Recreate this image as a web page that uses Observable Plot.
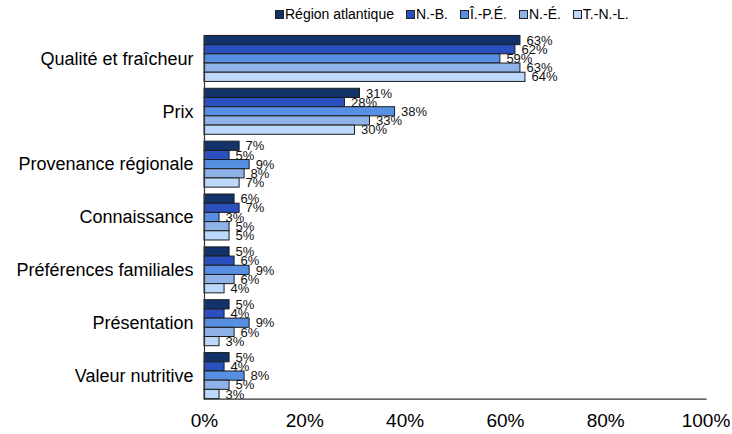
<!DOCTYPE html>
<html>
<head>
<meta charset="utf-8">
<script src="https://cdn.jsdelivr.net/npm/d3@7"></script>
<script src="https://cdn.jsdelivr.net/npm/@observablehq/plot@0.6"></script>
<style>
  body { margin: 0; background: #fff; font-family: "Liberation Sans", Arial, sans-serif; }
  #legend { height: 28px; display: flex; align-items: center; padding-left: 275px; font-size: 14px; color: #000; }
  #legend .item { display: flex; align-items: center; margin-right: 12px; }
  #legend .sw { width: 9px; height: 9px; border: 1px solid #222; margin-right: 1px; box-sizing: border-box; }
  #chart svg { overflow: visible; display: block; }
</style>
</head>
<body>
<div id="legend"></div>
<div id="chart"></div>
<script>
// Reasons cited for buying, share of respondents by province
const categories = ["Qualité et fraîcheur", "Prix", "Provenance régionale", "Connaissance", "Préférences familiales", "Présentation", "Valeur nutritive"];
const regions = ["Région atlantique", "N.-B.", "Î.-P.É.", "N.-É.", "T.-N.-L."];
const regionColors = ["#11336a", "#2a50c0", "#578fe3", "#8fb3e8", "#bcd9fc"];

const atlantique = [63, 31, 7, 6, 5, 5, 5];
const nouveauBrunswick = [62, 28, 5, 7, 6, 4, 4];
const ilePrinceEdouard = [59, 38, 9, 3, 9, 9, 8];
const nouvelleEcosse = [63, 33, 8, 5, 6, 6, 5];
const terreNeuve = [64, 30, 7, 5, 4, 3, 3];

const xTicks = [0, 20, 40, 60, 80, 100];

const series = [atlantique, nouveauBrunswick, ilePrinceEdouard, nouvelleEcosse, terreNeuve];
const data = categories.flatMap((category, i) =>
  regions.map((region, j) => ({ category, region, value: series[j][i] }))
);

// Legend row
const legend = d3.select("#legend");
regions.forEach((r, j) => {
  const item = legend.append("div").attr("class", "item");
  item.append("div").attr("class", "sw").style("background", regionColors[j]);
  item.append("span").text(r);
});

const font = "'Liberation Sans', Arial, sans-serif";

const chart = Plot.plot({
  width: 732,
  height: 406,
  marginLeft: 204,
  marginRight: 26.5,
  marginTop: 4,
  marginBottom: 32,
  style: { fontFamily: font, fontSize: "18px", color: "#000", background: "#fff" },
  x: { domain: [0, 100] },
  fy: { domain: categories, paddingInner: 0.13, paddingOuter: 0.065, round: false, label: null },
  y: { domain: regions, padding: 0, round: false, axis: null },
  color: { domain: regions, range: regionColors },
  marks: [
    Plot.barX(data, { x: "value", y: "region", fy: "category", fill: "region", stroke: "#1c1c1c", strokeWidth: 1 }),
    Plot.text(data, { x: "value", y: "region", fy: "category", text: d => d.value + "%", textAnchor: "start", dx: 6, fontSize: 13, fill: "#111" }),
    Plot.frame({ anchor: "left", facet: "super", stroke: "#333", strokeWidth: 1.2 }),
    Plot.frame({ anchor: "bottom", facet: "super", stroke: "#333", strokeWidth: 1.2 }),
    Plot.axisX({ ticks: xTicks, tickFormat: d => d + "%", tickSize: 0, tickPadding: 14, fontSize: 19, label: null, anchor: "bottom" }),
    Plot.axisFy({ tickSize: 0, tickPadding: 11, fontSize: 18, label: null, anchor: "left" })
  ]
});

document.getElementById("chart").appendChild(chart);
</script>
</body>
</html>
